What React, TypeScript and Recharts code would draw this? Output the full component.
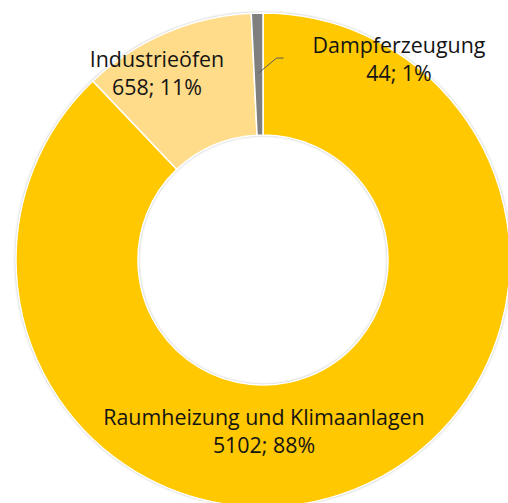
import { PieChart, Pie, Cell } from "recharts";

const categories = ["Raumheizung und Klimaanlagen", "Industrieöfen", "Dampferzeugung"];
const values = [5102, 658, 44];
const colors = ["#FFC800", "#FFDC8A", "#7F7F7F"];

// label anchor offsets from the pie centre (first line baseline), like Excel placed them
const labelOffsets = [
  { dx: 1, dy: 165 },
  { dx: -106, dy: -193 },
  { dx: 136, dy: -207 },
];

const total = values.reduce((a, b) => a + b, 0);
const data = categories.map((name, i) => ({ name, value: values[i] }));

const RAD = Math.PI / 180;

const renderLabel = (props: any) => {
  const { cx, cy, midAngle, index, value, name } = props;
  const off = labelOffsets[index];
  const x = cx + off.dx;
  const y = cy + off.dy;
  const pct = Math.round((value / total) * 100);
  let leader = null;
  if (index === 2) {
    const r = 187;
    const sx = cx + r * Math.cos(-midAngle * RAD);
    const sy = cy + r * Math.sin(-midAngle * RAD);
    leader = (
      <polyline
        points={`${sx},${sy} ${sx + 18},${sy - 15} ${sx + 25},${sy - 15}`}
        fill="none"
        stroke="#595959"
        strokeWidth={1}
      />
    );
  }
  return (
    <g>
      {leader}
      <text x={x} y={y} textAnchor="middle" fill="#141414" fontSize={21.4} fontFamily="'Open Sans', sans-serif">
        <tspan x={x} dy={0}>{name}</tspan>
        <tspan x={x} dy={28}>{`${value}; ${pct}%`}</tspan>
      </text>
    </g>
  );
};

export default function App() {
  return (
    <div style={{ width: 508, height: 503, background: "#fff" }}>
      <style>{`body{margin:0} .ring-shadow path{filter:drop-shadow(0 0 1.5px rgba(0,0,0,0.45));}`}</style>
      <PieChart width={508} height={503} margin={{ top: 0, right: 0, bottom: 0, left: 0 }}>
        <Pie
          className="ring-shadow"
          data={[{ name: "ring", value: total }]}
          dataKey="value"
          cx={263}
          cy={260}
          innerRadius={125}
          outerRadius={247}
          startAngle={90}
          endAngle={-270}
          fill="#ffffff"
          stroke="none"
          isAnimationActive={false}
        />
        <Pie
          data={data}
          dataKey="value"
          nameKey="name"
          cx={263}
          cy={260}
          innerRadius={125}
          outerRadius={247}
          startAngle={90}
          endAngle={-270}
          stroke="#ffffff"
          strokeWidth={1.5}
          label={renderLabel}
          labelLine={false}
          isAnimationActive={false}
        >
          {data.map((d, i) => (
            <Cell key={d.name} fill={colors[i]} />
          ))}
        </Pie>
      </PieChart>
    </div>
  );
}
